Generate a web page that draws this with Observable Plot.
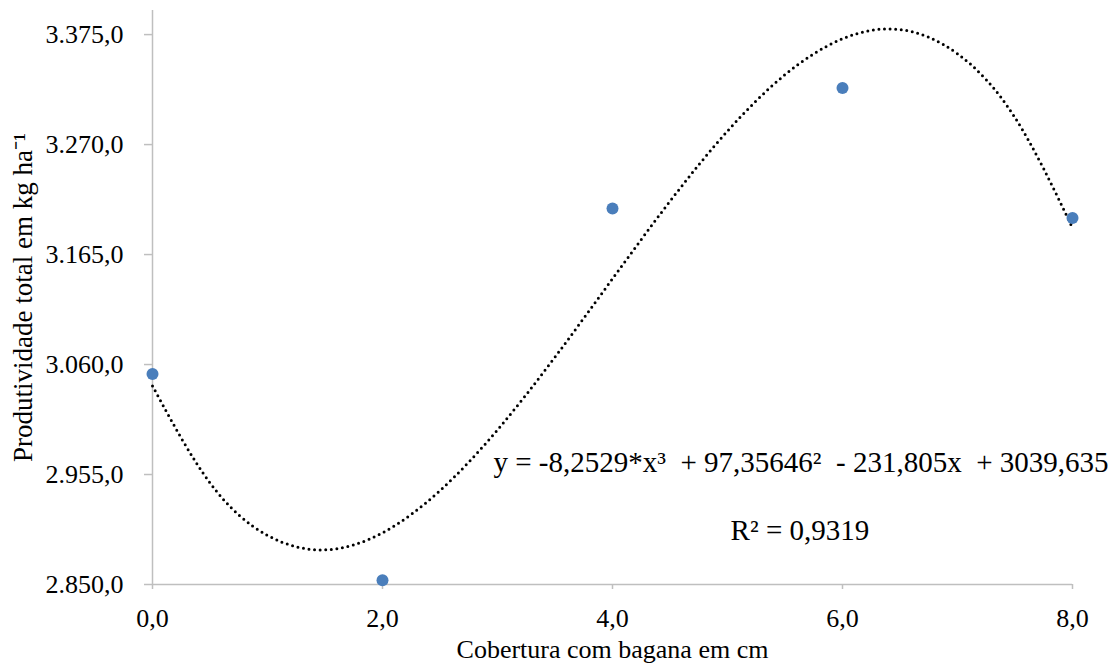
<!DOCTYPE html>
<html>
<head>
<meta charset="utf-8">
<script src="https://cdn.jsdelivr.net/npm/d3@7"></script>
<script src="https://cdn.jsdelivr.net/npm/@observablehq/plot@0.6"></script>
<style>
  html, body { margin: 0; padding: 0; background: #fff; }
  #chart svg { display: block; }
</style>
</head>
<body>
<div id="chart"></div>
<script>
// Observed data (cobertura em cm vs produtividade)
const coberturas = [0, 2, 4, 6, 8];
const produtividades = [3051, 2854, 3209, 3324, 3200];

// Trend line
const trendX = [0, 0.5, 1, 1.5, 2, 2.5, 3, 3.5, 4, 4.5, 5, 5.5, 6, 6.5, 7, 7.5, 8];
const trendY = [3039.6, 2947.0, 2896.9, 2883.1, 2899.4, 2939.7, 2997.6, 3067.1, 3141.9, 3215.9, 3282.9, 3336.7, 3371.0, 3379.8, 3356.7, 3295.7, 3190.5];

// Tick labels / axes
const yTicks = [2850, 2955, 3060, 3165, 3270, 3375];
const xTicks = [0, 2, 4, 6, 8];
const xTitle = "Cobertura com bagana em cm";
const yTitle = "Produtividade total em kg ha\u207B\u00B9";

// Annotations
const equationText = "y = -8,2529*x\u00B3  + 97,35646\u00B2  - 231,805x  + 3039,635";
const r2Text = "R\u00B2 = 0,9319";
const equationPos = [2.965, 2966];
const r2Pos = [5.63, 2901];

const locale = d3.formatLocale({decimal: ",", thousands: ".", grouping: [3], currency: ["", ""]});
const fmt = locale.format(",.1f");

const points = coberturas.map((x, i) => ({x, y: produtividades[i]}));
const trend = trendX.map((x, i) => ({x, y: trendY[i]}));

const axisGray = "#bfbfbf";
const serif = "'Liberation Serif', 'Times New Roman', serif";

const chart = Plot.plot({
  width: 1110,
  height: 666,
  marginLeft: 152,
  marginRight: 38,
  marginTop: 10,
  marginBottom: 82,
  style: {"font-family": serif, "font-size": "26px", "background": "#fff", "color": "#000"},
  x: {domain: [0, 8]},
  y: {domain: [2850, 3398]},
  marks: [
    Plot.ruleY([2850], {stroke: axisGray, strokeWidth: 1.5}),
    Plot.ruleX([0], {stroke: axisGray, strokeWidth: 1.5}),
    Plot.axisY(yTicks, {
      tickFormat: fmt, tickSize: 8, tickPadding: 21, stroke: axisGray, strokeWidth: 1.5,
      fill: "#000", fontSize: 26, fontFamily: serif, label: null
    }),
    Plot.axisX(xTicks, {
      tickFormat: fmt, tickSize: 5, tickPadding: 19, stroke: axisGray, strokeWidth: 1.5,
      fill: "#000", fontSize: 26, fontFamily: serif, label: null
    }),
    Plot.line(trend, {
      x: "x", y: "y", curve: "natural", stroke: "#000", strokeWidth: 3,
      strokeDasharray: "0 5.6", strokeLinecap: "round"
    }),
    Plot.dot(points, {x: "x", y: "y", r: 6, fill: "#4a7ebb", stroke: "none"}),
    Plot.text([equationText], {
      x: () => equationPos[0], y: () => equationPos[1], text: (d) => d,
      textAnchor: "start", fontSize: 29, fontFamily: serif, fill: "#000", lineAnchor: "middle"
    }),
    Plot.text([r2Text], {
      x: () => r2Pos[0], y: () => r2Pos[1], text: (d) => d,
      textAnchor: "middle", fontSize: 29, fontFamily: serif, fill: "#000", lineAnchor: "middle"
    }),
    Plot.text([xTitle], {
      frameAnchor: "bottom", dy: 73, text: (d) => d, fontSize: 26, fontFamily: serif, fill: "#000", lineAnchor: "bottom"
    }),
    Plot.text([yTitle], {
      frameAnchor: "left", dx: -129, rotate: -90, text: (d) => d, textAnchor: "middle",
      fontSize: 27, fontFamily: serif, fill: "#000", lineAnchor: "middle"
    })
  ]
});

document.getElementById("chart").appendChild(chart);
</script>
</body>
</html>
